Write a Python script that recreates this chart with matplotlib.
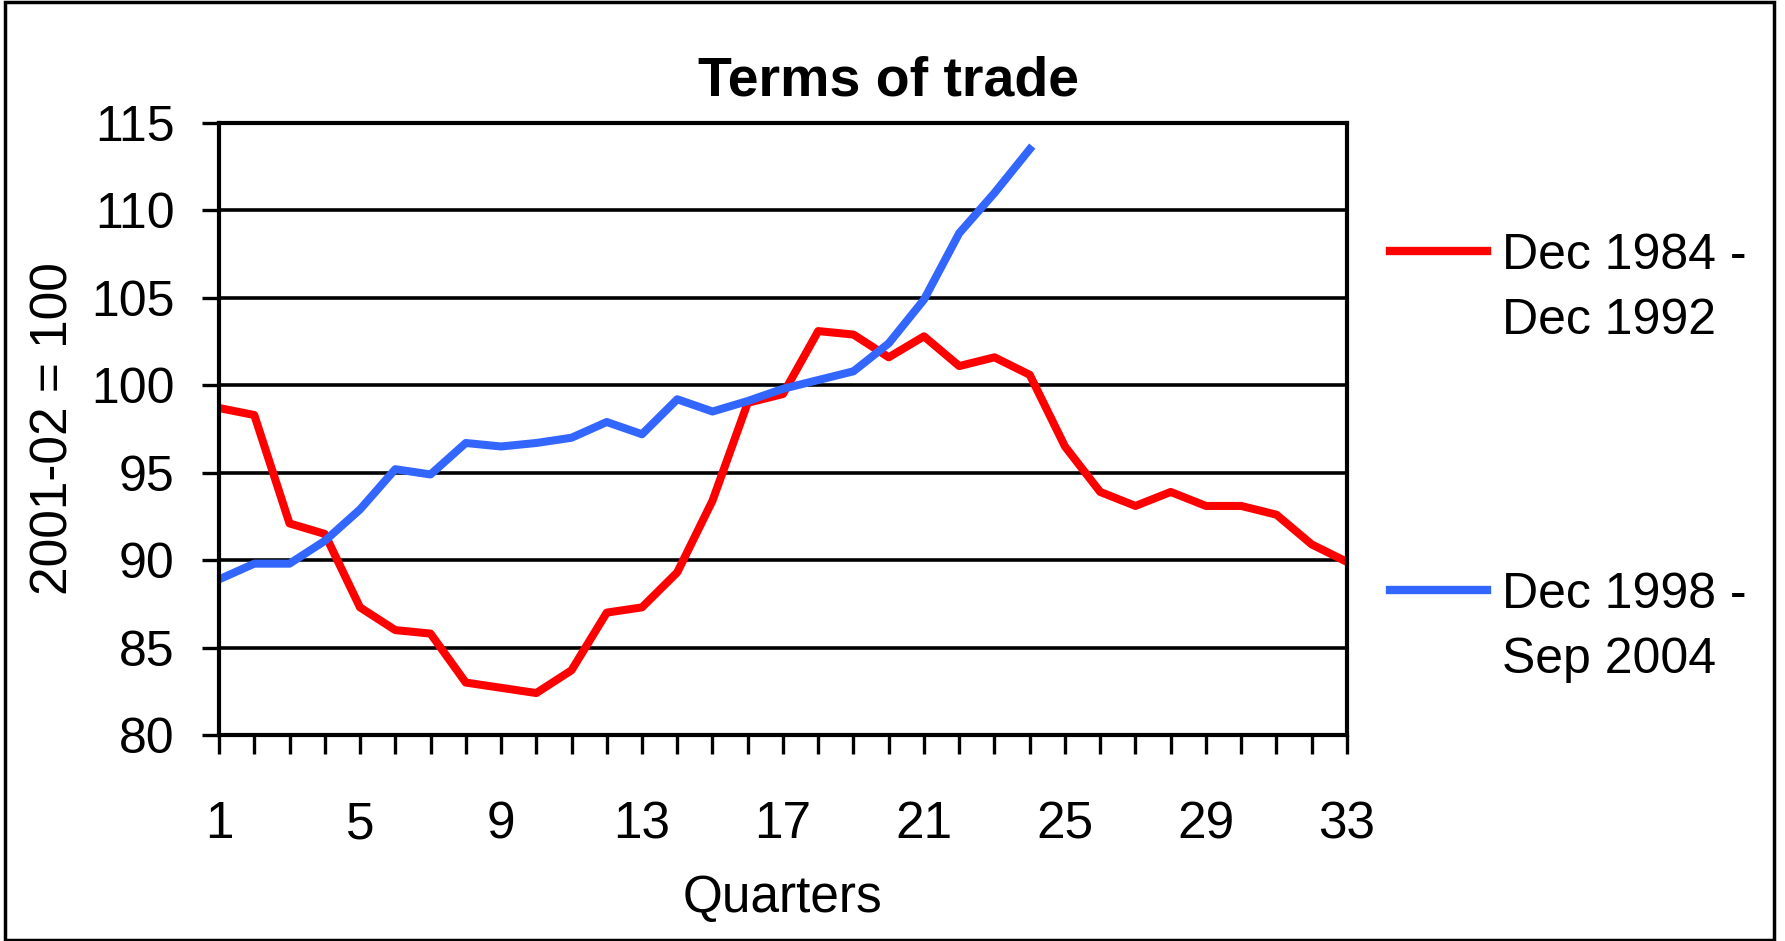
import matplotlib
matplotlib.use('Agg')
import matplotlib.pyplot as plt
from matplotlib.lines import Line2D
from matplotlib.patches import Rectangle

quarters = list(range(1, 34))
red_label = 'Dec 1984 -\nDec 1992'
red_vals = [98.7, 98.3, 92.1, 91.5, 87.3, 86.0, 85.8, 83.0, 82.7, 82.4,
            83.7, 87.0, 87.3, 89.3, 93.4, 99.0, 99.5, 103.1, 102.9, 101.6,
            102.8, 101.1, 101.6, 100.6, 96.5, 93.9, 93.1, 93.9, 93.1, 93.1,
            92.6, 90.9, 89.9]
blue_label = 'Dec 1998 -\nSep 2004'
blue_vals = [88.9, 89.8, 89.8, 91.1, 92.9, 95.2, 94.9, 96.7, 96.5, 96.7,
             97.0, 97.9, 97.2, 99.2, 98.5, 99.1, 99.8, 100.3, 100.8, 102.4,
             104.9, 108.7, 111.0, 113.5]
yticks = [80, 85, 90, 95, 100, 105, 110, 115]
xlabels_at = [1, 5, 9, 13, 17, 21, 25, 29, 33]

RED = '#FF0000'
BLUE = '#3366FF'

plt.rcParams['font.family'] = ['Liberation Sans', 'DejaVu Sans']

fig = plt.figure(figsize=(17.85, 9.41), dpi=100)
ax = fig.add_axes([0.1227, 0.2189, 0.6319, 0.6504])

ax.plot(quarters, red_vals, color=RED, lw=5.8)
ax.plot(quarters[:len(blue_vals)], blue_vals, color=BLUE, lw=5.8)

ax.set_xlim(1, 33)
ax.set_ylim(80, 115)
ax.set_yticks(yticks)
ax.set_xticks(quarters)
ax.set_xticklabels([str(q) if q in xlabels_at else '' for q in quarters])
ax.tick_params(axis='both', width=2.4, direction='out', colors='black')
ax.tick_params(axis='x', length=14, pad=33, labelsize=37)
ax.tick_params(axis='y', length=12, pad=20, labelsize=36)
ax.yaxis.grid(True, color='black', lw=2.6)
ax.set_axisbelow(True)
for s in ax.spines.values():
    s.set_linewidth(3)
    s.set_color('black')

ax.set_xlabel('Quarters', fontsize=37, labelpad=18)
ax.set_ylabel('2001-02 = 100', fontsize=37, labelpad=9)

fig.text(0.4975, 0.899, 'Terms of trade', fontsize=40, fontweight='bold',
         ha='center', va='baseline')

# legend drawn by hand so the line sits level with the first text line
for col, lab, y_line, y_text in [(RED, red_label, 0.7333, 0.7524),
                                 (BLUE, blue_label, 0.3730, 0.3921)]:
    fig.add_artist(Line2D([0.7787, 0.8331], [y_line, y_line], color=col, lw=6,
                          transform=fig.transFigure))
    fig.text(0.8415, y_text, lab, fontsize=36, va='top', ha='left', linespacing=1.53)

fig.add_artist(Rectangle((0.0028, 0.001), 0.991, 0.997, transform=fig.transFigure,
                         fill=False, edgecolor='black', lw=2.5))

fig.savefig('out.png', dpi=100)
